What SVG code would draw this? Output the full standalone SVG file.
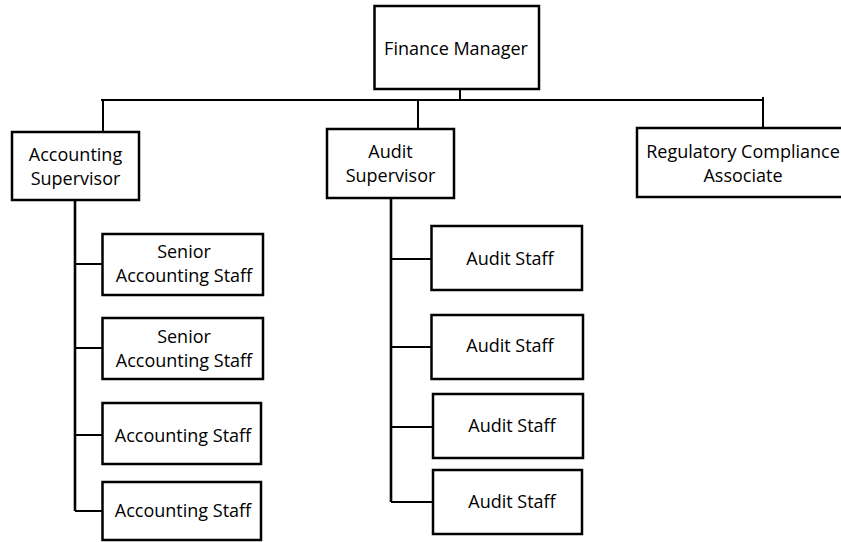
<svg xmlns="http://www.w3.org/2000/svg" width="841" height="542" viewBox="0 0 841 542">
  <style>
    .box { fill: #ffffff; stroke: #000000; stroke-width: 2.5; }
    .link { fill: none; stroke: #000000; stroke-width: 2; }
    .trunk { fill: none; stroke: #000000; stroke-width: 2.6; }
    text { font-family: "Open Sans", "Liberation Sans", sans-serif; font-size: 18px; fill: #000000; text-anchor: middle; }
  </style>
  <rect width="841" height="542" fill="#ffffff"/>

  <!-- connectors -->
  <g id="connectors">
    <path class="link" d="M460,89 V100 M101,100 H763 M763,97 V136 M103,100 V132 M418,100 V129"/>
    <path class="trunk" d="M75,200 V511"/>
    <path class="link" d="M75,264 H102 M75,348 H102 M75,435 H102 M75,511 H102"/>
    <path class="trunk" d="M391,198 V502"/>
    <path class="link" d="M391,259 H431 M391,347 H431 M391,427 H433 M391,502 H433"/>
  </g>

  <g id="finance-manager">
    <rect class="box" x="374.5" y="6" width="164.5" height="83"/>
    <text x="456" y="55">Finance Manager</text>
  </g>

  <g id="accounting-supervisor">
    <rect class="box" x="12" y="132" width="127" height="68"/>
    <text x="75.5" y="161">Accounting</text>
    <text x="75.5" y="185">Supervisor</text>
  </g>

  <g id="audit-supervisor">
    <rect class="box" x="327" y="129" width="127" height="69"/>
    <text x="390.5" y="158">Audit</text>
    <text x="390.5" y="182">Supervisor</text>
  </g>

  <g id="regulatory-compliance-associate">
    <rect class="box" x="637" y="128" width="212" height="69"/>
    <text x="743" y="158">Regulatory Compliance</text>
    <text x="743" y="182">Associate</text>
  </g>

  <g id="senior-accounting-staff-1">
    <rect class="box" x="102.5" y="234" width="160.5" height="61"/>
    <text x="184" y="258">Senior</text>
    <text x="184" y="282">Accounting Staff</text>
  </g>

  <g id="senior-accounting-staff-2">
    <rect class="box" x="102.5" y="318" width="160.5" height="61"/>
    <text x="184" y="343">Senior</text>
    <text x="184" y="367">Accounting Staff</text>
  </g>

  <g id="accounting-staff-1">
    <rect class="box" x="102.5" y="403" width="158.5" height="61"/>
    <text x="183" y="442">Accounting Staff</text>
  </g>

  <g id="accounting-staff-2">
    <rect class="box" x="102.5" y="482" width="158.5" height="58"/>
    <text x="183" y="517">Accounting Staff</text>
  </g>

  <g id="audit-staff-1">
    <rect class="box" x="431.5" y="226" width="150.5" height="64"/>
    <text x="510" y="265">Audit Staff</text>
  </g>

  <g id="audit-staff-2">
    <rect class="box" x="431.5" y="315" width="151.5" height="64"/>
    <text x="510" y="352">Audit Staff</text>
  </g>

  <g id="audit-staff-3">
    <rect class="box" x="433" y="394" width="150" height="64"/>
    <text x="512" y="432">Audit Staff</text>
  </g>

  <g id="audit-staff-4">
    <rect class="box" x="433" y="470" width="149" height="64"/>
    <text x="512" y="508">Audit Staff</text>
  </g>
</svg>
